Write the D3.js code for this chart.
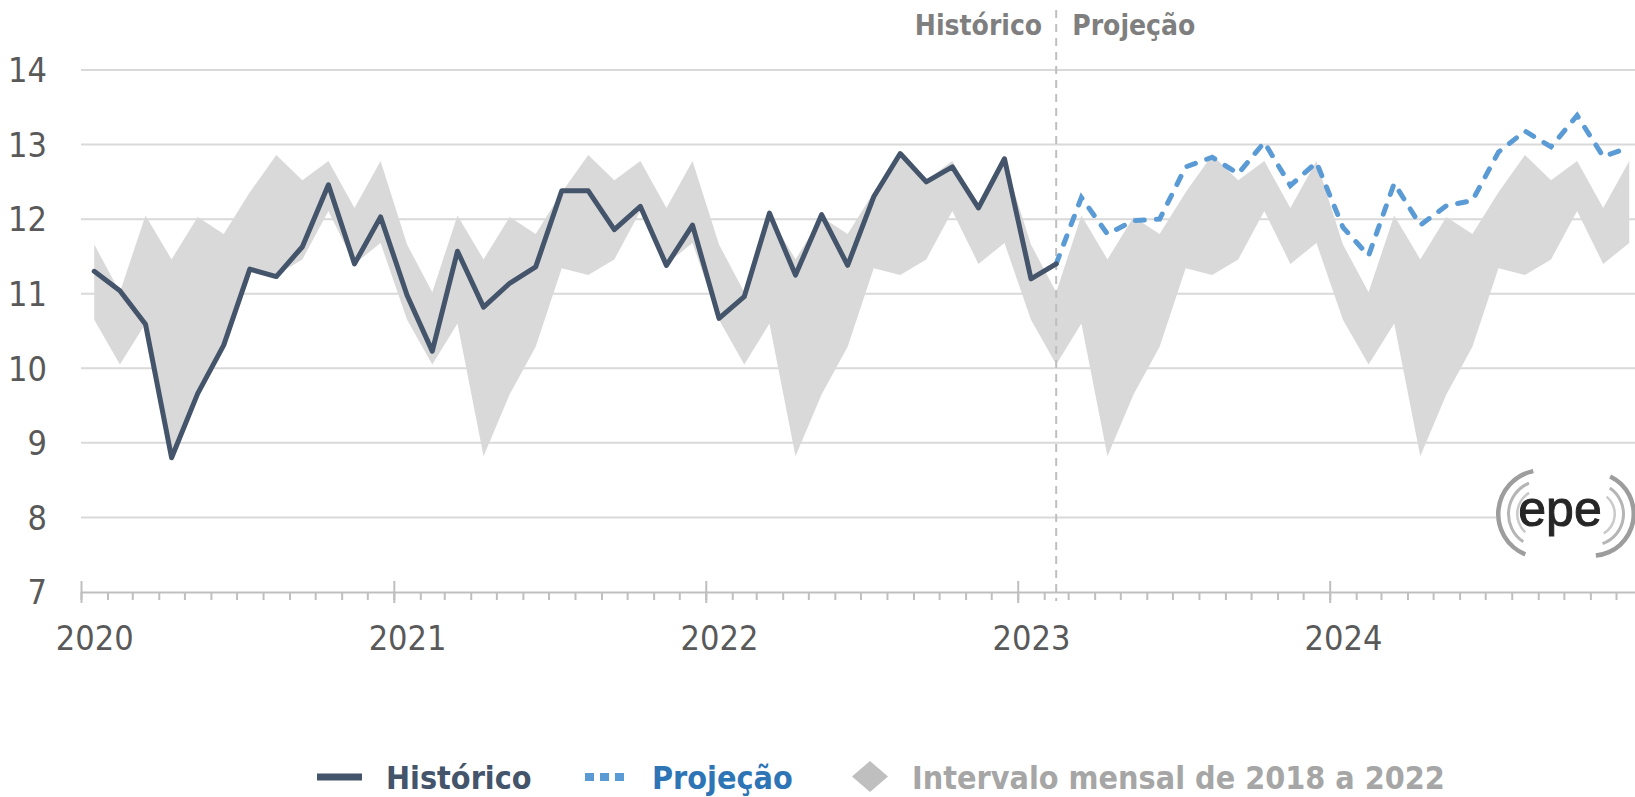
<!DOCTYPE html>
<html>
<head>
<meta charset="utf-8">
<script src="https://cdnjs.cloudflare.com/ajax/libs/d3/7.8.5/d3.min.js"></script>
<style>
  body { margin: 0; background: #fff; }
  text { font-family: "DejaVu Sans Condensed", "Liberation Sans Narrow", "DejaVu Sans", sans-serif; font-stretch: condensed; }
</style>
</head>
<body>
<div id="container"></div>
<script>
// monthly values
const yearsShown = [2020, 2021, 2022, 2023, 2024];
const yTicks = [7, 8, 9, 10, 11, 12, 13, 14];

// Histórico: Jan 2020 .. Feb 2023
const historico = [
  11.30, 11.04, 10.59, 8.80, 9.66, 10.31, 11.33, 11.23, 11.63, 12.46, 11.40, 12.03,
  10.98, 10.23, 11.57, 10.82, 11.14, 11.36, 12.38, 12.38, 11.86, 12.17, 11.38, 11.92,
  10.67, 10.96, 12.08, 11.25, 12.06, 11.38, 12.30, 12.88, 12.50, 12.70, 12.15, 12.81,
  11.20, 11.40
];
// Projeção: Feb 2023 .. Dec 2024
const projecao = [
  11.40, 12.29, 11.80, 11.98, 12.00, 12.70, 12.83, 12.61, 13.03, 12.45, 12.76,
  11.89, 11.51, 12.48, 11.92, 12.18, 12.25, 12.90, 13.18, 12.97, 13.39, 12.84, 12.96
];
// Intervalo mensal 2018-2022 (Jan..Dec)
const intervaloMax = [11.66, 11.02, 12.05, 11.46, 12.03, 11.80, 12.36, 12.86, 12.52, 12.78, 12.15, 12.78];
const intervaloMin = [10.65, 10.05, 10.60, 8.82, 9.65, 10.29, 11.34, 11.25, 11.46, 12.11, 11.40, 11.68];

const w = 1635;
const h = 797;

const svg = d3.select('#container')
  .append('svg')
  .attr('width', w)
  .attr('height', h);

const start = new Date(2020, 0, 1);
const end = new Date(2025, 0, 1);
const months = d3.timeMonths(start, end);
const mid = d => new Date((+d + +d3.timeMonth.offset(d, 1)) / 2);

const xScale = d3.scaleTime().domain([start, end]).range([81, 1642.5]);
const yScale = d3.scaleLinear().domain([7, 14]).range([592, 70]);

const histData = historico.map((v, i) => ({ date: mid(months[i]), value: v }));
const projData = projecao.map((v, i) => ({ date: mid(months[i + 37]), value: v }));
const bandData = months.map(m => ({
  date: mid(m),
  hi: intervaloMax[m.getMonth()],
  lo: intervaloMin[m.getMonth()]
}));

// gridlines
svg.append('g')
  .selectAll('line')
  .data(yTicks.filter(t => t > 7))
  .join('line')
  .attr('x1', 81).attr('x2', w)
  .attr('y1', d => yScale(d)).attr('y2', d => yScale(d))
  .attr('stroke', '#d9d9d9')
  .attr('stroke-width', 2);

// band
svg.append('path')
  .datum(bandData)
  .attr('fill', '#d9d9d9')
  .attr('d', d3.area()
    .x(d => xScale(d.date))
    .y0(d => yScale(d.lo))
    .y1(d => yScale(d.hi)));

// y labels
svg.append('g')
  .selectAll('text')
  .data(yTicks)
  .join('text')
  .attr('x', 47)
  .attr('y', d => yScale(d))
  .attr('dy', '0.36em')
  .attr('text-anchor', 'end')
  .attr('font-size', 34)
  .attr('fill', '#595959')
  .text(d => d);

// x axis: minor month ticks
const xAxisMinor = d3.axisBottom(xScale)
  .tickValues(months)
  .tickSize(8)
  .tickSizeOuter(0)
  .tickFormat('');
const gx = svg.append('g')
  .attr('transform', 'translate(0,' + yScale(7) + ')')
  .call(xAxisMinor);
gx.select('.domain').attr('stroke', '#bfbfbf').attr('stroke-width', 2);
gx.selectAll('.tick line').attr('stroke', '#bfbfbf').attr('stroke-width', 2);

// major year ticks crossing the axis
const xAxisMajor = d3.axisBottom(xScale)
  .ticks(d3.timeYear.every(1))
  .tickSize(11)
  .tickSizeOuter(0)
  .tickFormat('');
const gxm = svg.append('g')
  .attr('transform', 'translate(0,' + yScale(7) + ')')
  .call(xAxisMajor);
gxm.select('.domain').remove();
gxm.selectAll('.tick line').attr('y1', -11).attr('stroke', '#bfbfbf').attr('stroke-width', 2);

// year labels under mid-January
const xAxisLabels = d3.axisBottom(xScale)
  .tickValues(yearsShown.map(y => mid(new Date(y, 0, 1))))
  .tickSize(0)
  .tickPadding(34)
  .tickFormat(d3.timeFormat('%Y'));
const gxl = svg.append('g')
  .attr('transform', 'translate(0,' + yScale(7) + ')')
  .call(xAxisLabels);
gxl.select('.domain').remove();
gxl.selectAll('text')
  .attr('font-size', 34)
  .attr('fill', '#595959')
  .style('font-family', null);

// divider between histórico and projeção
const xDiv = xScale(mid(months[37]));
svg.append('line')
  .attr('x1', xDiv).attr('x2', xDiv)
  .attr('y1', 10).attr('y2', yScale(7) + 9)
  .attr('stroke', '#bfbfbf')
  .attr('stroke-width', 2)
  .attr('stroke-dasharray', '8,6');

svg.append('text')
  .attr('x', xDiv - 14).attr('y', 35)
  .attr('text-anchor', 'end')
  .attr('font-size', 28).attr('font-weight', 'bold')
  .attr('fill', '#7f7f7f')
  .text('Histórico');
svg.append('text')
  .attr('x', xDiv + 16).attr('y', 35)
  .attr('font-size', 28).attr('font-weight', 'bold')
  .attr('fill', '#7f7f7f')
  .text('Projeção');

const line = d3.line()
  .x(d => xScale(d.date))
  .y(d => yScale(d.value));

svg.append('path')
  .datum(projData)
  .attr('fill', 'none')
  .attr('stroke', '#5b9bd5')
  .attr('stroke-width', 5)
  .attr('stroke-linecap', 'round')
  .attr('stroke-dasharray', '9,12')
  .attr('d', line);

svg.append('path')
  .datum(histData)
  .attr('fill', 'none')
  .attr('stroke', '#44546a')
  .attr('stroke-width', 5)
  .attr('stroke-linejoin', 'round')
  .attr('stroke-linecap', 'round')
  .attr('d', line);

// epe logo
const logo = svg.append('g').attr('transform', 'translate(1560,514)');
logo.append('rect')
  .attr('x', -64).attr('y', -42).attr('width', 140).attr('height', 84)
  .attr('fill', '#fff');
const arc = d3.arc();
const rings = [
  { cx: -18, r: 46, t: 4.5, a0: -2.75, a1: -0.2, c: '#9d9d9d' },
  { cx: -18, r: 35, t: 3, a0: -2.55, a1: -0.4, c: '#b5b5b5' },
  { cx: -18, r: 26, t: 2.5, a0: -2.4, a1: -0.55, c: '#cacaca' },
  { cx: 32, r: 44, t: 4.5, a0: 0.45, a1: 3.05, c: '#9d9d9d' },
  { cx: 32, r: 33, t: 3, a0: 0.6, a1: 2.8, c: '#b5b5b5' },
  { cx: 32, r: 24, t: 2.5, a0: 0.7, a1: 2.6, c: '#cacaca' }
];
logo.selectAll('path')
  .data(rings)
  .join('path')
  .attr('transform', d => 'translate(' + d.cx + ',0)')
  .attr('fill', d => d.c)
  .attr('d', d => arc({ innerRadius: d.r - d.t, outerRadius: d.r, startAngle: d.a0, endAngle: d.a1 }));
logo.append('text')
  .attr('x', 0).attr('y', 12)
  .attr('text-anchor', 'middle')
  .attr('font-size', 50)
  .attr('fill', '#262626')
  .attr('stroke', '#262626')
  .attr('stroke-width', 1)
  .style('font-family', 'Liberation Sans, Arial, sans-serif')
  .style('font-stretch', 'normal')
  .text('epe');

// legend
const legend = svg.append('g').attr('font-size', 32).attr('font-weight', 'bold');
legend.append('line')
  .attr('x1', 317).attr('x2', 362).attr('y1', 777).attr('y2', 777)
  .attr('stroke', '#44546a').attr('stroke-width', 7);
legend.append('text').attr('x', 386).attr('y', 789).attr('fill', '#44546a').text('Histórico');
legend.append('line')
  .attr('x1', 585).attr('x2', 624).attr('y1', 777).attr('y2', 777)
  .attr('stroke', '#5b9bd5').attr('stroke-width', 8)
  .attr('stroke-dasharray', '9,6');
legend.append('text').attr('x', 652).attr('y', 789).attr('fill', '#2e75b6').text('Projeção');
legend.append('path')
  .attr('d', 'M870,761 L888,776.5 L870,792 L852,776.5 Z')
  .attr('fill', '#bfbfbf');
legend.append('text').attr('x', 912).attr('y', 789).attr('fill', '#a6a6a6').text('Intervalo mensal de 2018 a 2022');
</script>
</body>
</html>
